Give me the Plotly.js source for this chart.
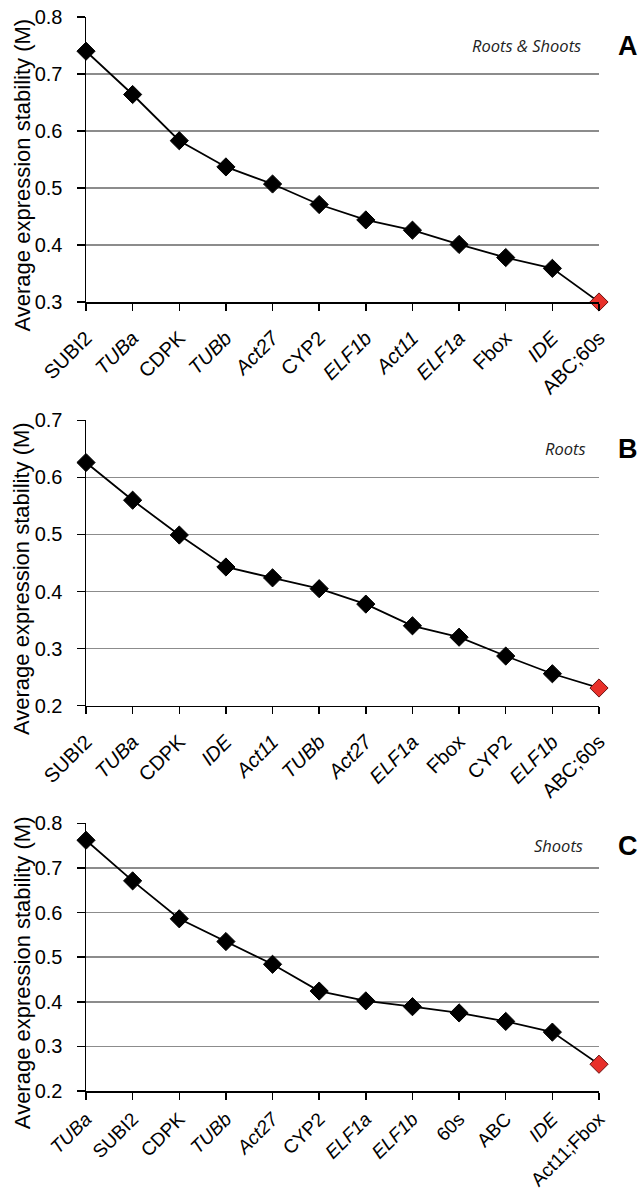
<!DOCTYPE html>
<html>
<head>
<meta charset="utf-8">
<script src="https://cdn.plot.ly/plotly-3.0.1.min.js"></script>
<style>html,body{margin:0;padding:0;background:#fff;}#chart{width:642px;height:1197px;}</style>
</head>
<body>
<div id="chart"></div>
<script>
// Panel A: Roots & Shoots
const genesA = ["SUBI2","TUBa","CDPK","TUBb","Act27","CYP2","ELF1b","Act11","ELF1a","Fbox","IDE","ABC;60s"];
const labelsA = ["SUBI2","<i>TUBa</i>","CDPK","<i>TUBb</i>","<i>Act27</i>","CYP2","<i>ELF1b</i>","<i>Act11</i>","<i>ELF1a</i>","Fbox","<i>IDE</i>","ABC;60s"];
const valuesA = [0.740,0.664,0.583,0.537,0.507,0.471,0.444,0.426,0.401,0.378,0.359,0.300];

// Panel B: Roots
const genesB = ["SUBI2","TUBa","CDPK","IDE","Act11","TUBb","Act27","ELF1a","Fbox","CYP2","ELF1b","ABC;60s"];
const labelsB = ["SUBI2","<i>TUBa</i>","CDPK","<i>IDE</i>","<i>Act11</i>","<i>TUBb</i>","<i>Act27</i>","<i>ELF1a</i>","Fbox","CYP2","<i>ELF1b</i>","ABC;60s"];
const valuesB = [0.626,0.560,0.499,0.443,0.424,0.405,0.378,0.340,0.320,0.287,0.256,0.231];

// Panel C: Shoots
const genesC = ["TUBa","SUBI2","CDPK","TUBb","Act27","CYP2","ELF1a","ELF1b","60s","ABC","IDE","Act11;Fbox"];
const labelsC = ["<i>TUBa</i>","SUBI2","CDPK","<i>TUBb</i>","<i>Act27</i>","CYP2","<i>ELF1a</i>","<i>ELF1b</i>","60s","ABC","<i>IDE</i>","Act11;Fbox"];
const valuesC = [0.762,0.671,0.586,0.535,0.484,0.424,0.402,0.389,0.375,0.356,0.332,0.260];

const panelNames = ["Roots & Shoots","Roots","Shoots"];
const panelLetters = ["A","B","C"];
const yRanges = [[0.3,0.8],[0.2,0.7],[0.2,0.8]];

const W = 642, H = 1197;
const xDom = [86/W, 599/W];
const yDoms = [[1-302/H, 1-17/H],[1-705.7/H, 1-420.3/H],[1-1091/H, 1-823.3/H]];
const nameRight = [583, 588, 585];
const xStandoff = [8, 8, 1];
const FONT = "Liberation Sans, Arial, sans-serif";

const sets = [[genesA,labelsA,valuesA],[genesB,labelsB,valuesB],[genesC,labelsC,valuesC]];
const traces = [];
const layout = {
  width: W, height: H,
  margin: {l:0,r:0,t:0,b:0},
  paper_bgcolor: "#fff", plot_bgcolor: "#fff",
  showlegend: false,
  annotations: []
};

sets.forEach((s, i) => {
  const [genes, labels, vals] = s;
  const n = vals.length;
  const suf = i === 0 ? "" : String(i+1);
  traces.push({
    type: "scatter", mode: "lines+markers",
    x: genes, y: vals,
    xaxis: "x"+suf, yaxis: "y"+suf,
    cliponaxis: false,
    line: {color: "#000", width: 1.8},
    marker: {
      symbol: "diamond", size: 14,
      color: vals.map((v,k) => k === n-1 ? "#e8302a" : "#000"),
      line: {width: 1, color: vals.map((v,k) => k === n-1 ? "#6a1010" : "#000")}
    },
    hoverinfo: "x+y"
  });
  layout["xaxis"+suf] = {
    domain: xDom, anchor: "y"+suf,
    type: "category",
    range: [0, n-1],
    tickmode: "array",
    tickvals: genes, ticktext: labels,
    tickangle: -45,
    ticks: "outside", ticklen: 7, tickwidth: 1.5, tickcolor: "#000",
    showline: true, linecolor: "#000", linewidth: 1.5,
    showgrid: false, zeroline: false,
    ticklabelstandoff: xStandoff[i],
    tickfont: {family: FONT, size: i === 2 ? 19 : 20, color: "#000"}
  };
  layout["yaxis"+suf] = {
    domain: yDoms[i], anchor: "x"+suf,
    range: yRanges[i], dtick: 0.1, tick0: 0,
    tickformat: ".1f",
    ticks: "outside", ticklen: 8, tickwidth: 1.5, tickcolor: "#000",
    showline: true, linecolor: "#000", linewidth: 1.5,
    showgrid: true, gridcolor: "#8c8c8c", gridwidth: 1.5,
    zeroline: false,
    ticklabelstandoff: 10,
    tickfont: {family: FONT, size: 20, color: "#000"}
  };
  const top = (1 - yDoms[i][1]) * H;
  const bot = (1 - yDoms[i][0]) * H;
  layout.annotations.push({
    xref: "paper", yref: "y"+suf,
    x: nameRight[i]/W, y: yRanges[i][1] - 0.05,
    xanchor: "right", yanchor: "middle",
    text: "<i>"+panelNames[i].replace("&","&amp;")+"</i>", showarrow: false,
    font: {family: "Open Sans, sans-serif", size: 16.5, color: "#222"}
  });
  layout.annotations.push({
    xref: "paper", yref: "y"+suf,
    x: 628/W, y: yRanges[i][1] - 0.05,
    xanchor: "center", yanchor: "middle",
    text: "<b>"+panelLetters[i]+"</b>", showarrow: false,
    font: {family: FONT, size: 27, color: "#000"}
  });
  layout.annotations.push({
    xref: "paper", yref: "paper",
    x: 22/W, y: 1 - ((top+bot)/2 + 16)/H,
    xanchor: "center", yanchor: "middle",
    textangle: -90,
    text: "Average expression stability (M)", showarrow: false,
    font: {family: FONT, size: 22, color: "#000"}
  });
});

Plotly.newPlot("chart", traces, layout, {staticPlot: true});
</script>
</body>
</html>
